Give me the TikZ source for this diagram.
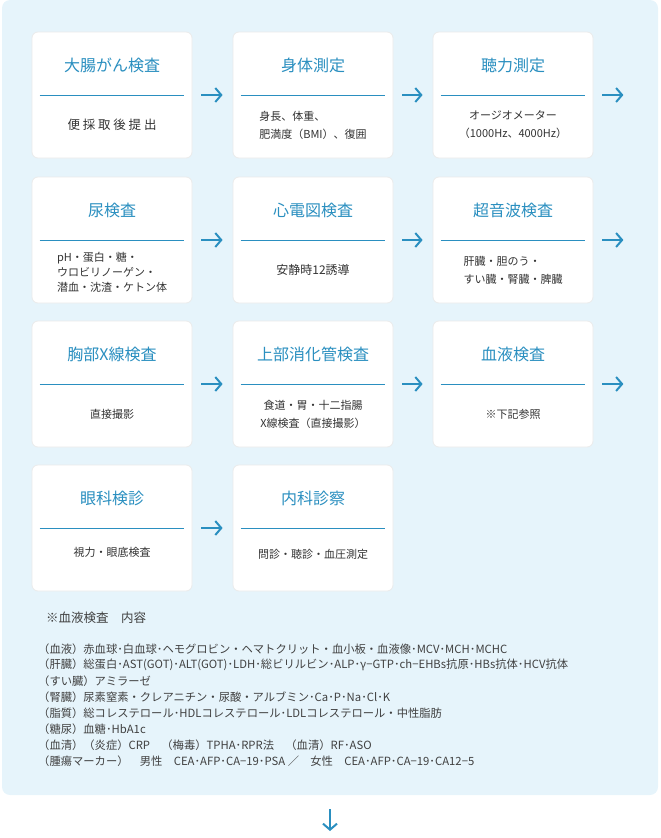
\documentclass[tikz,border=0pt]{standalone}
\usepackage{fontspec}
\setmainfont{Noto Sans CJK JP}
\usetikzlibrary{arrows.meta}
\begin{document}
\begin{tikzpicture}[x=1pt,y=-1pt,
  card/.style={draw=black!8,line width=0.8pt,fill=white,rounded corners=6pt,minimum width=160pt,minimum height=126pt,inner sep=0pt},
  ttl/.style={text=tblue,font=\fontsize{16}{18}\selectfont},
  bdy/.style={text=black!80,font=\fontsize{11.5}{17}\selectfont,align=left},
  arr/.style={draw=tblue,line width=2pt,-{Straight Barb[length=6pt,width=14pt]}},
  lst/.style={anchor=west,text=black!75,font=\fontsize{11.3}{12}\selectfont,inner sep=0pt}]
\definecolor{tblue}{HTML}{2A8FC0}
\definecolor{bg}{HTML}{E6F4FB}
\useasboundingbox (0,0) rectangle (661,838);
\fill[bg,rounded corners=8pt] (2,0) rectangle (658,795);
\foreach \r/\y in {0/95,1/240,2/384,3/528}{
 \foreach \c/\x in {0/112,1/313,2/513}{
  \ifnum\r=3 \ifnum\c=2 \else
   \node[card] (b\r\c) at (\x,\y) {};
   \draw[tblue,line width=0.9pt] ([xshift=8pt]b\r\c.west) -- ([xshift=-8pt]b\r\c.east);
  \fi\else
   \node[card] (b\r\c) at (\x,\y) {};
   \draw[tblue,line width=0.9pt] ([xshift=8pt]b\r\c.west) -- ([xshift=-8pt]b\r\c.east);
  \fi
 }}
\tikzset{T/.style={ttl,anchor=center}}
\node[T] at ([yshift=30pt]b00.center) {大腸がん検査};
\node[T] at ([yshift=30pt]b01.center) {身体測定};
\node[T] at ([yshift=30pt]b02.center) {聴力測定};
\node[T] at ([yshift=30pt]b10.center) {尿検査};
\node[T] at ([yshift=30pt]b11.center) {心電図検査};
\node[T] at ([yshift=30pt]b12.center) {超音波検査};
\node[T] at ([yshift=30pt]b20.center) {胸部X線検査};
\node[T] at ([yshift=30pt]b21.center) {上部消化管検査};
\node[T] at ([yshift=30pt]b22.center) {血液検査};
\node[T] at ([yshift=30pt]b30.center) {眼科検診};
\node[T] at ([yshift=30pt]b31.center) {内科診察};
\node[bdy,font=\fontsize{12.5}{17}\selectfont] at ([yshift=-30pt]b00.center) {便 採 取 後 提 出};
\node[bdy,font=\fontsize{11}{18}\selectfont] at ([yshift=-30pt]b01.center) {身長、体重、\\肥満度（BMI）、復囲};
\node[bdy,align=center,font=\fontsize{11}{18}\selectfont] at ([yshift=-30pt]b02.center) {オージオメーター\\（1000Hz、4000Hz）};
\node[bdy,font=\fontsize{11}{15}\selectfont] at ([yshift=-32pt]b10.center) {pH・蛋白・糖・\\ウロビリノーゲン・\\潜血・沈渣・ケトン体};
\node[bdy,font=\fontsize{12}{17}\selectfont] at ([yshift=-30pt]b11.center) {安静時12誘導};
\node[bdy,font=\fontsize{11}{18}\selectfont] at ([yshift=-30pt]b12.center) {肝臓・胆のう・\\すい臓・腎臓・脾臓};
\node[bdy,font=\fontsize{11}{12}\selectfont] at ([yshift=-30pt]b20.center) {直接撮影};
\node[bdy,align=center,font=\fontsize{11}{18}\selectfont] at ([yshift=-30pt]b21.center) {食道・胃・十二指腸\\X線検査（直接撮影）};
\node[bdy,font=\fontsize{11}{12}\selectfont] at ([yshift=-30pt]b22.center) {※下記参照};
\node[bdy,font=\fontsize{11}{12}\selectfont] at ([yshift=-24pt]b30.center) {視力・眼底検査};
\node[bdy,font=\fontsize{11}{12}\selectfont] at ([yshift=-26pt]b31.center) {問診・聴診・血圧測定};
\foreach \r in {0,1,2}{
 \coordinate (e\r) at ([xshift=30pt]b\r2.east);
 \draw[arr] ([xshift=9pt]b\r0.east) -- ([xshift=-10pt]b\r1.west);
 \draw[arr] ([xshift=9pt]b\r1.east) -- ([xshift=-10pt]b\r2.west);
 \draw[arr] ([xshift=9pt]b\r2.east) -- (e\r);}
\draw[arr] ([xshift=9pt]b30.east) -- ([xshift=-10pt]b31.west);
\coordinate (d0) at (330,809); \coordinate (d1) at (330,831);
\draw[arr] (d0) -- (d1);
\node[lst,font=\fontsize{12.5}{14}\selectfont] (h) at (46,618) {※血液検査　内容};
\node[lst] (l1) at (38,649) {（血液）赤血球･白血球･ヘモグロビン・ヘマトクリット・血小板・血液像･MCV･MCH･MCHC};
\node[lst] (l2) at (38,665) {（肝臓）総蛋白･AST(GOT)･ALT(GOT)･LDH･総ビリルビン･ALP･γ−GTP･ch−EHBs抗原･HBs抗体･HCV抗体};
\node[lst] (l3) at (38,681) {（すい臓）アミラーゼ};
\node[lst] (l4) at (38,697) {（腎臓）尿素窒素・クレアニチン・尿酸・アルブミン･Ca･P･Na･Cl･K};
\node[lst] (l5) at (38,713) {（脂質）総コレステロール･HDLコレステロール･LDLコレステロール・中性脂肪};
\node[lst] (l6) at (38,729) {（糖尿）血糖･HbA1c};
\node[lst] (l7) at (38,745) {（血清）（炎症）CRP　（梅毒）TPHA･RPR法　（血清）RF･ASO};
\node[lst] (l8) at (38,761) {（腫瘍マーカー）　男性　CEA･AFP･CA−19･PSA ／　女性　CEA･AFP･CA−19･CA12−5};
\end{tikzpicture}
\end{document}
